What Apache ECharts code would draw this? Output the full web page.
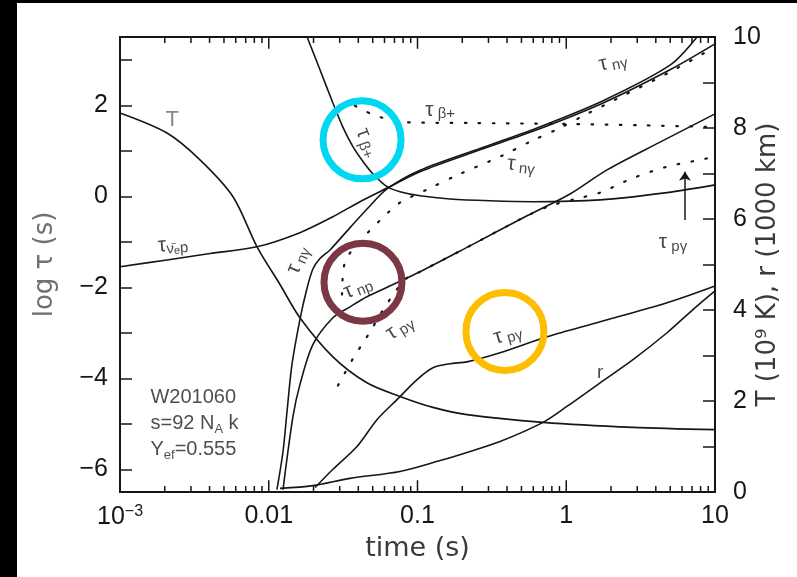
<!DOCTYPE html>
<html><head><meta charset="utf-8">
<script src="https://cdn.jsdelivr.net/npm/echarts@6.0.0/dist/echarts.min.js"></script>
<style>
html,body{margin:0;padding:0;background:#000;width:797px;height:577px;overflow:hidden}
#chart{position:absolute;left:17px;top:3px;width:780px;height:574px;background:#fff}
</style></head><body><div id="chart"></div>
<script>
// ---- data (time in s; tau series in log tau (s); T in 10^9 K; r in 1000 km) ----
const timeTicks = [0.001, 0.01, 0.1, 1, 10];
const timeTickLabels = ['10^-3', '0.01', '0.1', '1', '10'];
const logTauLabels = [-6, -4, -2, 0, 2];
const rightLabels = [0, 2, 4, 6, 8, 10];

const tTemp = [0.001,0.00207,0.00345,0.00575,0.00834,0.0119,0.0162,0.0270,0.0457,0.0762,0.127,0.215,0.698,2.81,10];
const temp  = [8.33,7.89,7.30,6.49,5.39,4.56,3.83,2.97,2.40,2.10,1.86,1.70,1.53,1.42,1.37];

const tRad = [0.0119,0.0198,0.0352,0.0762,0.142,0.215,0.359,0.698,1.01,1.69,2.81,4.76,7.11,10];
const rad  = [0.08,0.14,0.30,0.45,0.69,0.87,1.11,1.53,1.88,2.40,2.91,3.50,4.01,4.42];

const tNuP = [0.001,0.00207,0.00403,0.00834,0.0162,0.0270,0.0410,0.0624,0.104,0.263,0.635,1.77,4.98,10];
const tauNuP = [-1.55,-1.40,-1.26,-1.11,-0.80,-0.45,-0.12,0.18,0.54,1.02,1.46,2.05,2.78,3.35];

const tNg = [0.01135,0.01247,0.01327,0.01432,0.0162,0.0180,0.0198,0.0221,0.0258,0.0352,0.0480,0.0624,0.104,0.263,0.635,1.77,4.98,7.57];
const tauNg = [-6.45,-5.61,-4.73,-3.70,-2.71,-2.05,-1.60,-1.37,-1.18,-0.69,-0.21,0.16,0.57,1.05,1.50,2.10,2.88,3.5];

const tNp = [0.01247,0.01455,0.0162,0.0198,0.0270,0.0352,0.0457,0.0685,0.104,0.225,0.545,1.06,1.88,4.27,10];
const tauNp = [-6.45,-4.84,-4.14,-3.26,-2.67,-2.43,-2.21,-1.94,-1.66,-1.09,-0.43,0.05,0.58,1.19,1.81];

const tPg = [0.0205,0.0270,0.0392,0.0534,0.0728,0.0993,0.127,0.165,0.215,0.359,0.742,1.69,4.76,10];
const tauPg = [-6.40,-6.0,-5.5,-4.91,-4.47,-4.03,-3.77,-3.68,-3.64,-3.44,-3.09,-2.76,-2.34,-1.97];

const tBeta = [0.0181,0.0221,0.0270,0.0315,0.0368,0.0431,0.0503,0.0624,0.0762,0.104,0.165,0.307,0.597,1.69,4.76,10];
const tauBeta = [3.5,2.78,2.05,1.52,1.09,0.76,0.49,0.21,0.10,0.01,-0.06,-0.10,-0.12,-0.08,0.08,0.25];

const tBetaDot = [0.0380,0.0503,0.0624,0.0800,0.225,0.908,3.13,10];
const tauBetaDot = [1.99,1.79,1.70,1.63,1.61,1.59,1.56,1.52];

const tNgDot = [0.0311,0.0326,0.0443,0.0634,0.0762,0.118,0.187,0.370,0.589,0.881,1.38,2.19,4.98,10];
const tauNgDot = [-2.16,-1.44,-0.87,-0.36,-0.14,0.16,0.47,0.89,1.22,1.48,1.81,2.14,2.73,3.28];

const tPgDot = [0.0292,0.0368,0.0423,0.0480,0.0605,0.0824,0.104,0.225,0.545,0.778,1.15,1.69,2.81,4.76,7.93,10];
const tauPgDot = [-4.16,-3.57,-3.26,-2.98,-2.43,-1.83,-1.66,-1.09,-0.43,-0.21,-0.06,0.08,0.40,0.65,0.80,0.87];

// annotation circles
const circleT = [0.0424, 0.043, 0.387];
const circleTau = [1.24, -1.89, -2.97];
const circleColors = ['#00d8f2', '#7b3743', '#fdbd00'];

// curve labels: time, log tau, text, rotation
const labelT   = [0.00224, 0.00227, 0.142, 2.06, 0.497, 5.22, 0.0157, 0.0398, 0.0762, 0.405, 0.0457, 1.69];
const labelTau = [1.68, -1.07, 1.90, 2.95, 0.69, -1.02, -1.40, -2.01, -2.89, -3.04, 1.17, -3.88];
const labelText = [
  '{g|T}',
  '{t|τ}{s|ν̄}{ss|e}{s|p}',
  '{t|τ}{s| β+}',
  '{t|τ}{s| nγ}',
  '{t|τ}{s| nγ}',
  '{t|τ}{s| pγ}',
  '{t|τ}{s| nγ}',
  '{t|τ}{s| np}',
  '{t|τ}{s| pγ}',
  '{t|τ}{s| pγ}',
  '{t|τ}{s| β+}',
  '{r|r}'
];
const labelRot = [0, 4, 0, 12, -6, 0, 66, 22, 32, 16, -70, 0];

// arrow pointing at dotted tau_pγ
const arrowT = 6.28, arrowFrom = -0.52, arrowTo = 0.54;

const infoLines = ['W201060', 's=92 N_A k', 'Y_ef=0.555'];

// ---- build ----
const L = Math.log10;
const pts = (ts, vs) => ts.map((t, i) => [L(t), vs[i]]);
const xMin = L(timeTicks[0]), xMax = L(timeTicks[timeTicks.length - 1]);
const yMin = -6.5, yMax = 3.5;
const MAJ_LEN = 0.26, MIN_LEN = 0.13;   // tick lengths in log-tau units

// time-axis tick marks (decades major, 2..9 minor) at bottom and top, as broken line segments
const xTickLine = [];
timeTicks.forEach((t, i) => {
  const list = [[L(t), MAJ_LEN]];
  if (i < timeTicks.length - 1) for (let k = 2; k <= 9; k++) list.push([L(k * t), MIN_LEN]);
  list.forEach(([x, len]) => {
    xTickLine.push([x, yMin], [x, yMin + len], '-');
    xTickLine.push([x, yMax], [x, yMax - len], '-');
  });
});

const FONT = 'Liberation Sans';
const NAMEFONT = 'DejaVu Sans';
const INK = '#161616';

function lineS(name, data, yIdx, dotted) {
  return {
    type: 'line', name, data, xAxisIndex: 0, yAxisIndex: yIdx,
    symbol: 'none', showSymbol: false, smooth: 0.3, silent: true, clip: true, z: 3,
    lineStyle: dotted
      ? { color: INK, width: 2.2, type: [1.6, 12.5], cap: 'round' }
      : { color: INK, width: 1.6 }
  };
}

const axLine = () => ({ show: true, onZero: false, lineStyle: { color: INK, width: 2 } });
const tickObj = (len, vals) => ({ show: true, inside: true, length: len, customValues: vals, lineStyle: { color: INK, width: 1.5 } });

const xLabelMap = {};
timeTicks.forEach((t, i) => { xLabelMap[Math.round(L(t))] = timeTickLabels[i]; });

const option = {
  animation: false,
  backgroundColor: '#fff',
  grid: { left: 103, right: 82, top: 34, bottom: 85, containLabel: false, outerBoundsMode: 'none' },
  xAxis: [
    {
      type: 'value', min: xMin, max: xMax, interval: 1, position: 'bottom',
      axisLine: axLine(), axisTick: { show: false }, splitLine: { show: false },
      axisLabel: {
        margin: 12, color: INK, fontFamily: FONT, fontSize: 25,
        formatter: v => {
          const s = xLabelMap[Math.round(v)];
          if (s && s.indexOf('^') >= 0) { const p = s.split('^'); return '{b|' + p[0] + '}{sup|' + p[1].replace('-', '−') + '}'; }
          return s;
        },
        rich: {
          b: { fontFamily: FONT, fontSize: 25, color: INK },
          sup: { fontFamily: FONT, fontSize: 16, color: INK, verticalAlign: 'top', padding: [0, 0, 10, 0] }
        }
      },
      name: 'time (s)', nameLocation: 'middle', nameGap: 43, nameMoveOverlap: false,
      nameTextStyle: { fontFamily: NAMEFONT, fontSize: 27, color: '#3a3a3a' }
    },
    { type: 'value', min: xMin, max: xMax, interval: 1, position: 'top', axisLine: axLine(),
      axisTick: { show: false }, axisLabel: { show: false }, splitLine: { show: false } }
  ],
  yAxis: [
    {
      type: 'value', min: yMin, max: yMax, position: 'left',
      axisLine: axLine(), splitLine: { show: false },
      axisTick: tickObj(12, [-6, -5, -4, -3, -2, -1, 0, 1, 2, 3]),
      axisLabel: { customValues: logTauLabels.slice(), margin: 12, color: INK, fontFamily: FONT, fontSize: 25,
        formatter: v => (v < 0 ? '−' + Math.abs(v) : String(v)) },
      name: 'log τ (s)', nameLocation: 'middle', nameGap: 62, nameRotate: 90, nameMoveOverlap: false,
      nameTextStyle: { fontFamily: NAMEFONT, fontSize: 26, color: '#707070' }
    },
    {
      type: 'value', min: 0, max: 10, position: 'right',
      axisLine: axLine(), splitLine: { show: false },
      axisTick: tickObj(12, [0, 1, 2, 3, 4, 5, 6, 7, 8, 9, 10]),
      axisLabel: { customValues: rightLabels.slice(), margin: 18, color: INK, fontFamily: FONT, fontSize: 25 },
      name: 'T (10⁹ K), r (1000 km)', nameLocation: 'middle', nameGap: 40, nameRotate: 90, nameMoveOverlap: false,
      nameTextStyle: { fontFamily: NAMEFONT, fontSize: 26, color: '#3a3a3a' }
    }
  ],
  series: [
    lineS('T', pts(tTemp, temp), 1, false),
    lineS('r', pts(tRad, rad), 1, false),
    lineS('tau_nuebar_p', pts(tNuP, tauNuP), 0, false),
    lineS('tau_ngamma', pts(tNg, tauNg), 0, false),
    lineS('tau_np', pts(tNp, tauNp), 0, false),
    lineS('tau_pgamma', pts(tPg, tauPg), 0, false),
    lineS('tau_beta+', pts(tBeta, tauBeta), 0, false),
    lineS('tau_beta+ (dotted)', pts(tBetaDot, tauBetaDot), 0, true),
    lineS('tau_ngamma (dotted)', pts(tNgDot, tauNgDot), 0, true),
    lineS('tau_pgamma (dotted)', pts(tPgDot, tauPgDot), 0, true),
    {
      type: 'line', name: 'time axis ticks', xAxisIndex: 0, yAxisIndex: 0, data: xTickLine,
      symbol: 'none', showSymbol: false, smooth: false, connectNulls: false, silent: true, clip: false, z: 6,
      lineStyle: { color: INK, width: 1.5 }
    },
    {
      type: 'scatter', name: 'labels', xAxisIndex: 0, yAxisIndex: 0, silent: true, z: 5,
      symbolSize: 1, itemStyle: { color: 'rgba(0,0,0,0)' },
      data: labelT.map((t, i) => ({ value: [L(t), labelTau[i]], label: { rotate: labelRot[i] } }))
        .concat([{ value: [L(0.00159), -4.99], label: { position: 'right', distance: 0, align: 'left', rotate: 0 } }]),
      label: {
        show: true, position: 'inside', align: 'center', verticalAlign: 'middle',
        formatter: p => {
          if (p.dataIndex < labelText.length) return labelText[p.dataIndex];
          return infoLines.map(s => {
            const m = s.match(/^(.*?)_(\w+)(.*)$/);
            if (!m) return '{m|' + s + '}';
            return '{m|' + m[1] + '}{sub|' + m[2] + '}{m|' + m[3] + '}';
          }).join('\n');
        },
        rich: {
          t: { fontFamily: FONT, fontSize: 21, color: INK },
          s: { fontFamily: FONT, fontSize: 15, color: INK, verticalAlign: 'bottom', padding: [8, 0, 0, 0] },
          ss: { fontFamily: FONT, fontSize: 11, color: INK, verticalAlign: 'bottom', padding: [12, 0, 0, 0] },
          g: { fontFamily: FONT, fontSize: 22, color: '#6a6a6a' },
          r: { fontFamily: FONT, fontSize: 19, color: INK },
          m: { fontFamily: FONT, fontSize: 20, color: '#222', lineHeight: 26 },
          sub: { fontFamily: FONT, fontSize: 13, color: '#222', lineHeight: 26, verticalAlign: 'bottom', padding: [10, 0, 0, 0] }
        }
      },
      markLine: {
        silent: true, animation: false, symbol: ['none', 'arrow'], symbolSize: 9,
        label: { show: false }, lineStyle: { color: INK, width: 1.5, type: 'solid' },
        data: [[{ coord: [L(arrowT), arrowFrom] }, { coord: [L(arrowT), arrowTo] }]]
      }
    },
    {
      type: 'scatter', name: 'highlight circles', xAxisIndex: 0, yAxisIndex: 0, silent: true, z: 8,
      symbol: 'circle', symbolSize: 78,
      data: circleT.map((t, i) => ({
        value: [L(t), circleTau[i]],
        itemStyle: { color: 'rgba(0,0,0,0)', borderColor: circleColors[i], borderWidth: 7, opacity: 1 }
      }))
    }
  ]
};

const chart = echarts.init(document.getElementById('chart'), null, { renderer: 'canvas' });
chart.setOption(option);
</script>
</body></html>
